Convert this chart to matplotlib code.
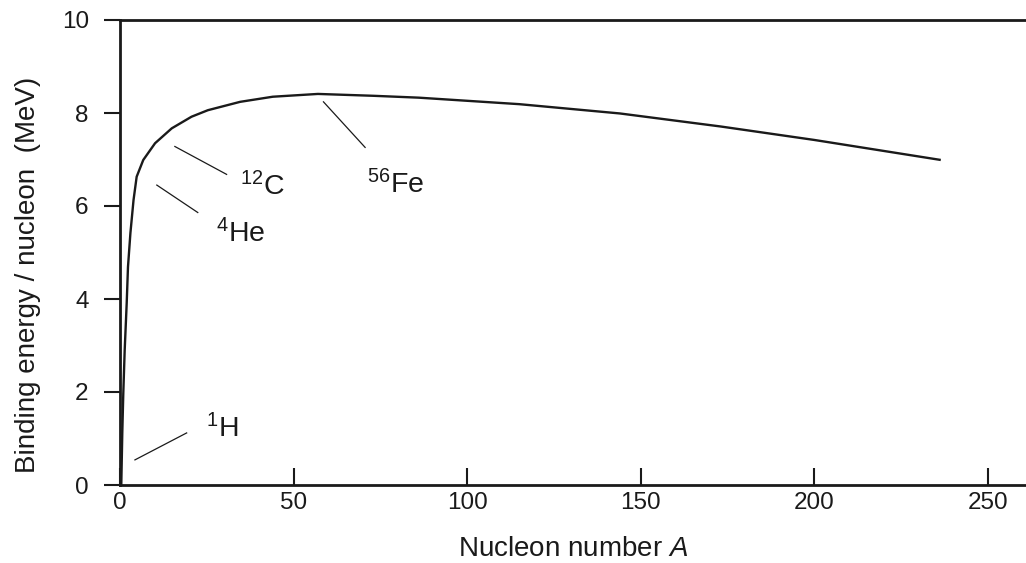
import matplotlib
matplotlib.use('Agg')
from matplotlib import pyplot as plt

plt.rcParams['font.family'] = ['Liberation Sans', 'DejaVu Sans']
plt.rcParams['mathtext.fontset'] = 'custom'
plt.rcParams['mathtext.rm'] = 'Liberation Sans'
plt.rcParams['mathtext.it'] = 'Liberation Sans:italic'

# curve
nucleons = [0.37, 0.66, 0.95, 1.35, 1.93, 2.3, 3.0, 3.9, 4.8, 6.7, 10.1, 14.9, 20.6, 25.3,
            34.6, 44, 57, 73, 86, 115, 144, 173, 200, 236.4]
energy = [0.0, 1.12, 1.97, 2.90, 3.91, 4.69, 5.42, 6.13, 6.63, 6.99, 7.35, 7.67, 7.92, 8.06,
          8.24, 8.35, 8.41, 8.37, 8.33, 8.19, 7.99, 7.71, 7.42, 6.99]

# labels: text, position, leader line start / end
labels = [r'$^{56}$Fe', r'$^{12}$C', r'$^{4}$He', r'$^{1}$H']
label_pos = [(71.1, 6.28), (34.6, 6.22), (27.6, 5.23), (24.8, 1.03)]
leader_a = [(58.6, 70.6), (15.8, 30.7), (10.6, 22.4), (4.3, 19.2)]
leader_b = [(8.24, 7.26), (7.28, 6.68), (6.45, 5.86), (0.54, 1.12)]

xticks = [0, 50, 100, 150, 200, 250]
yticks = [0, 2, 4, 6, 8, 10]

fig = plt.figure(figsize=(10.26, 5.63), dpi=100)
ax = fig.add_axes([120/1026, 78/563, 906/1026, 465/563])

ax.plot(nucleons, energy, color='#1a1a1a', lw=1.7, solid_capstyle='butt')
for t, (tx, ty), la, lb in zip(labels, label_pos, leader_a, leader_b):
    ax.plot(la, lb, color='#1a1a1a', lw=0.9)
    ax.text(tx, ty, t, fontsize=20.5, ha='left', va='baseline', color='#1a1a1a')

ax.set_xlim(0, 906/3.472)
ax.set_ylim(0, 10)
ax.set_xticks(xticks)
ax.set_yticks(yticks)
ax.spines['right'].set_visible(False)
for s in ['left', 'top', 'bottom']:
    ax.spines[s].set_linewidth(2)
    ax.spines[s].set_color('#1a1a1a')
ax.tick_params(axis='x', direction='in', length=12, width=1.5, pad=5,
               labelsize=17.5, colors='#1a1a1a')
ax.tick_params(axis='y', direction='out', length=11.5, width=1.5, pad=11,
               labelsize=17.5, colors='#1a1a1a')

ax.set_xlabel(r'Nucleon number $\it{A}$', fontsize=20, labelpad=16, color='#1a1a1a')
ax.set_ylabel('Binding energy / nucleon  (MeV)', fontsize=20, color='#1a1a1a')
ax.yaxis.set_label_coords(-0.087, 0.452)

fig.savefig('out.png', dpi=100)
